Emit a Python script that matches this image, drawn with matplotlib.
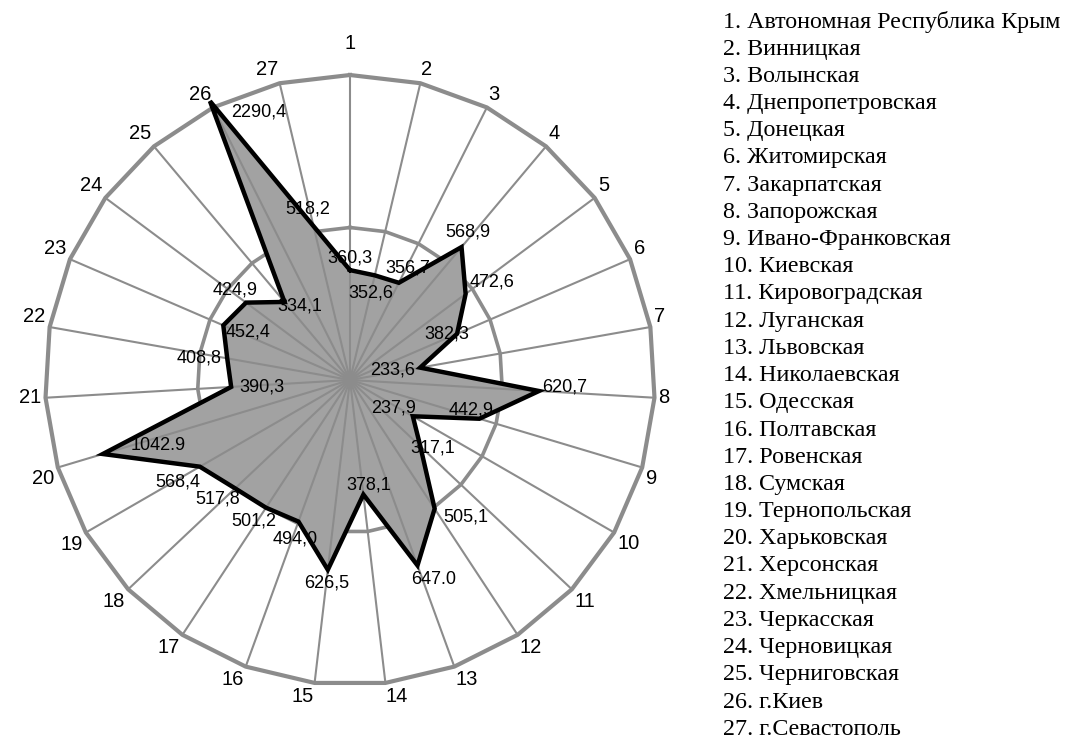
import matplotlib.pyplot as plt
import numpy as np

# Regions (legend on the right)
regions = [
    "Автономная Республика Крым", "Винницкая", "Волынская", "Днепропетровская",
    "Донецкая", "Житомирская", "Закарпатская", "Запорожская",
    "Ивано-Франковская", "Киевская", "Кировоградская", "Луганская",
    "Львовская", "Николаевская", "Одесская", "Полтавская", "Ровенская",
    "Сумская", "Тернопольская", "Харьковская", "Херсонская", "Хмельницкая",
    "Черкасская", "Черновицкая", "Черниговская", "г.Киев", "г.Севастополь",
]

# Data labels as printed on the chart
value_labels = [
    "360,3", "352,6", "356,7", "568,9", "472,6", "382,3", "233,6", "620,7",
    "442,9", "237,9", "317,1", "505,1", "647.0", "378,1", "626,5", "494,0",
    "501,2", "517,8", "568,4", "1042.9", "390,3", "408,8", "452,4", "424,9",
    "334,1", "2290,4", "518,2",
]

# Values as drawn (axis max 1000; the two large ones are capped in the picture)
values = [
    360.3, 352.6, 356.7, 568.9, 472.6, 382.3, 233.6, 620.7,
    442.9, 237.9, 317.1, 505.1, 647.0, 378.1, 626.5, 494.0,
    501.2, 517.8, 568.4, 846.0, 390.3, 408.8, 452.4, 424.9,
    334.1, 1023.0, 518.2,
]

grid_levels = [500, 1000]

# manual label offsets in pixels (dx, dy), y up
label_offsets = [
    (0, 12), (-4, -18), (9, 15), (6, 15), (26, 12), (-10, 0), (-28, -2),
    (26, 4), (-8, 9), (-19, 8), (12, -2), (31, -8), (16, -14), (5, 10),
    (-1, -13), (-3, -17), (-12, -13), (-17, -11), (-22, -15), (55, 9),
    (31, 0), (-28, 0), (25, -7), (-11, 13), (15, -4), (49, -11), (-6, 17),
]

W, H = 1065, 748
cx, cy = 350, 380          # chart center in pixels
R_px = 305                 # pixels for 1000

fig = plt.figure(figsize=(W / 100, H / 100), dpi=100)
ax = fig.add_axes([0, 0, 1, 1])
u = 1000 / R_px
ax.set_xlim(-cx * u, (W - cx) * u)
ax.set_ylim(-(H - cy) * u, cy * u)
ax.axis("off")

n = len(values)
theta = np.arange(n) * 2 * np.pi / n
sx, sy = np.sin(theta), np.cos(theta)

grid_col = "#8c8c8c"

# rings (polygonal)
for lev, lw in zip(grid_levels, [2.6, 3.0]):
    ax.plot(np.append(lev * sx, lev * sx[0]), np.append(lev * sy, lev * sy[0]),
            color=grid_col, lw=lw, zorder=1, solid_joinstyle="miter")

# filled polygon
vals = np.asarray(values)
px, py = vals * sx, vals * sy
ax.fill(px, py, color="#a2a2a2", zorder=2, lw=0)

# spokes
rmax = grid_levels[-1]
for x, y in zip(sx, sy):
    ax.plot([0, rmax * x], [0, rmax * y], color=grid_col, lw=1.5, zorder=3)

# small tick at top of axis 1
ax.plot([-30, 30], [rmax, rmax], color=grid_col, lw=1.3, zorder=3)

# outline
ax.plot(np.append(px, px[0]), np.append(py, py[0]), color="black", lw=3.2,
        zorder=4, solid_joinstyle="miter")

# data labels
for x, y, lab, (dx, dy) in zip(px, py, value_labels, label_offsets):
    ax.annotate(lab, (x, y), xytext=(dx, dy), textcoords="offset pixels",
                ha="center", va="center", fontsize=13,
                family="Liberation Sans", zorder=5)

# category numbers
for i, (x, y) in enumerate(zip(sx, sy)):
    ha = "left" if x > 0.1 else ("right" if x < -0.1 else "center")
    va = "bottom" if y > 0.1 else ("top" if y < -0.1 else "center")
    off = 22 if i == 0 else 4
    ax.annotate(str(i + 1), (rmax * x, rmax * y),
                xytext=(off * x, off * y), textcoords="offset pixels",
                ha=ha, va=va, fontsize=14.5, family="Liberation Sans")

# legend list
for i, name in enumerate(regions):
    fig.text(723 / W, 1 - (22 + i * 27.2) / H, f"{i + 1}. {name}",
             ha="left", va="center", fontsize=17.3, family="Liberation Serif")

fig.savefig("out.png", dpi=100)
